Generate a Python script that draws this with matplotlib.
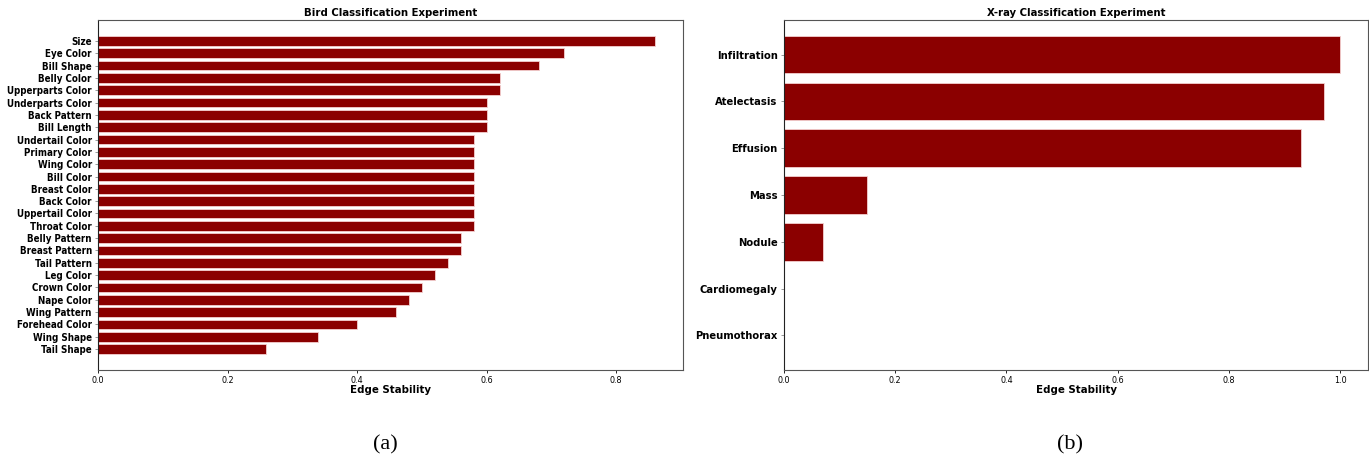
import matplotlib
matplotlib.use("Agg")
import matplotlib.pyplot as plt

plt.rcParams["font.family"] = ["DejaVu Sans"]
plt.rcParams["font.stretch"] = "condensed"

bird_labels = ["Size", "Eye Color", "Bill Shape", "Belly Color", "Upperparts Color",
               "Underparts Color", "Back Pattern", "Bill Length", "Undertail Color",
               "Primary Color", "Wing Color", "Bill Color", "Breast Color", "Back Color",
               "Uppertail Color", "Throat Color", "Belly Pattern", "Breast Pattern",
               "Tail Pattern", "Leg Color", "Crown Color", "Nape Color", "Wing Pattern",
               "Forehead Color", "Wing Shape", "Tail Shape"]
bird_values = [0.86, 0.72, 0.68, 0.62, 0.62, 0.60, 0.60, 0.60, 0.58, 0.58, 0.58, 0.58,
               0.58, 0.58, 0.58, 0.58, 0.56, 0.56, 0.54, 0.52, 0.50, 0.48, 0.46, 0.40,
               0.34, 0.26]

xray_labels = ["Infiltration", "Atelectasis", "Effusion", "Mass", "Nodule",
               "Cardiomegaly", "Pneumothorax"]
xray_values = [1.0, 0.97, 0.93, 0.15, 0.07, 0.0, 0.0]

bar_color = "#8B0000"

fig = plt.figure(figsize=(13.69, 4.57), dpi=100)
W, H = 1369, 457
ax1 = fig.add_axes([98 / W, 1 - 370 / H, (683 - 98) / W, (370 - 20) / H])
ax2 = fig.add_axes([784 / W, 1 - 370 / H, (1368 - 784) / W, (370 - 20) / H])


def draw(ax, labels, values, title, ylab_size):
    ys = list(range(len(labels)))[::-1]
    ax.barh(ys, values, height=0.8, color=bar_color, edgecolor="#f4d0d0", linewidth=0.6)
    ax.set_yticks(ys)
    ax.set_yticklabels(labels, fontsize=ylab_size, fontweight="bold")
    ax.tick_params(axis="x", labelsize=6.5, length=2.5, width=0.6, pad=2)
    ax.tick_params(axis="y", length=2.5, width=0.6, pad=2, color="#888888")
    ax.set_xlabel("Edge Stability", fontsize=8.2, fontweight="bold", labelpad=-0.5)
    ax.set_title(title, fontsize=8.1, fontweight="bold", pad=3)
    for s in ax.spines.values():
        s.set_color("#555555")
        s.set_linewidth(0.8)
    ax.spines["left"].set_color("#222222")


draw(ax1, bird_labels, bird_values, "Bird Classification Experiment", 7.0)
draw(ax2, xray_labels, xray_values, "X-ray Classification Experiment", 8.0)

fig.text(385 / W, 1 - 445 / H, "(a)", fontsize=16, family="Liberation Serif",
         stretch="normal", ha="center", va="center")
fig.text(1070 / W, 1 - 445 / H, "(b)", fontsize=16, family="Liberation Serif",
         stretch="normal", ha="center", va="center")

fig.savefig("out.png", dpi=100)
